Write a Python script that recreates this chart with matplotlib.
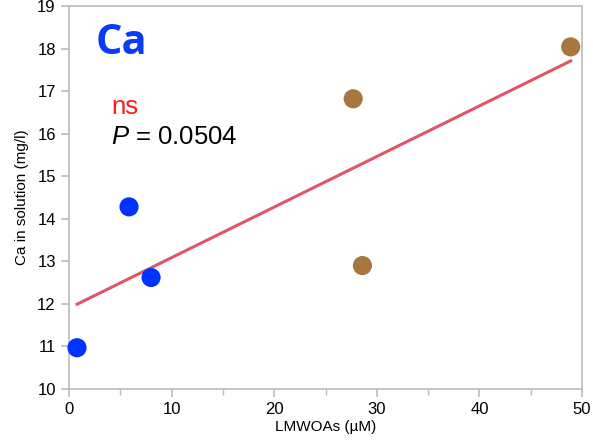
import numpy as np
import matplotlib.pyplot as plt

plt.rcParams['font.family'] = ['Liberation Sans', 'DejaVu Sans']
plt.rcParams['mathtext.fontset'] = 'custom'
plt.rcParams['mathtext.it'] = 'Liberation Sans:italic'
plt.rcParams['mathtext.rm'] = 'Liberation Sans'

x_blue = [0.78, 5.85, 8.0]
y_blue = [10.97, 14.28, 12.62]
x_brown = [27.7, 28.6, 48.9]
y_brown = [16.82, 12.9, 18.04]

x_all = np.array(x_blue + x_brown)
y_all = np.array(y_blue + y_brown)
slope, intercept = np.polyfit(x_all, y_all, 1)
xl = np.array([x_all.min(), x_all.max()])

fig = plt.figure(figsize=(5.93, 4.44), dpi=100)
ax = fig.add_axes([69/593, 1-389/444, (582-69)/593, (389-6)/444])

ax.plot(xl, slope*xl + intercept, color='#DE5668', lw=2.2, zorder=2)
ax.scatter(x_blue, y_blue, s=190, color='#0033FF', edgecolors='none', zorder=3, clip_on=False)
ax.scatter(x_brown, y_brown, s=190, color='#A8763F', edgecolors='none', zorder=3, clip_on=False)

ax.set_xlim(0, 50)
ax.set_ylim(10, 19)
ax.set_xticks(range(0, 51, 10))
ax.set_xticks(range(5, 50, 10), minor=True)
ax.set_yticks(range(10, 20))
for s in ax.spines.values():
    s.set_color('#BBBBBB')
    s.set_linewidth(1.2)
ax.tick_params(which='both', colors='#BBBBBB', labelcolor='black', labelsize=12, direction='out')
ax.tick_params(which='major', length=6, width=1.2)
ax.tick_params(which='minor', length=4, width=1)

ax.set_xlabel('LMWOAs (µM)', fontsize=11, labelpad=2)
ax.set_ylabel('Ca in solution (mg/l)', fontsize=11, labelpad=6)

ax.text(2.6, 18.12, 'Ca', color='#0A3CF5', fontsize=30, fontweight='bold',
        family='Open Sans', va='center', ha='left')
ax.text(4.1, 16.63, 'ns', color='#FF1A1A', fontsize=18.5, va='center', ha='left')
ax.text(4.1, 15.92, r'$\mathit{P}$ = 0.0504', color='black', fontsize=18.5, va='center', ha='left')

fig.savefig('out.png', dpi=100)
